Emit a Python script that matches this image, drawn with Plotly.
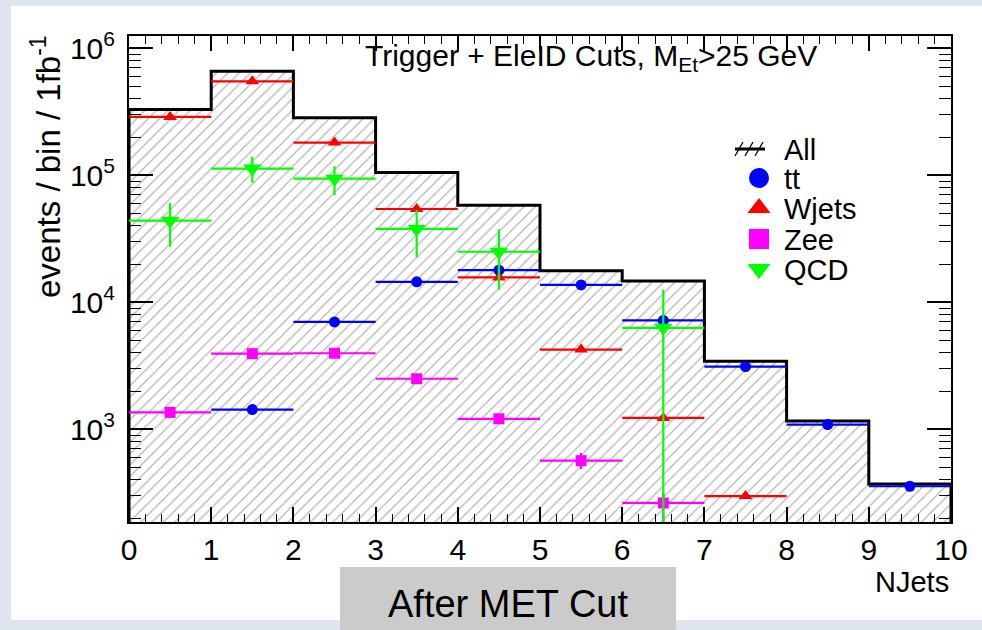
import plotly.graph_objects as go

# Bin edges and total ("All") events per NJets bin, per 1 fb^-1
edges = [0, 1, 2, 3, 4, 5, 6, 7, 8, 9, 10]
all_vals = [3.3e5, 6.6e5, 2.84e5, 1.05e5, 5.8e4, 1.77e4, 1.47e4, 3.43e3, 1.16e3, 371]

# ttbar
tt_x = [1.5, 2.5, 3.5, 4.5, 5.5, 6.5, 7.5, 8.5, 9.5]
tt_y = [1.43e3, 7.0e3, 1.45e4, 1.79e4, 1.37e4, 7.2e3, 3.11e3, 1.09e3, 356]

# W + jets
wj_x = [0.5, 1.5, 2.5, 3.5, 4.5, 5.5, 6.5, 7.5]
wj_y = [2.88e5, 5.5e5, 1.81e5, 5.43e4, 1.57e4, 4.24e3, 1.23e3, 298]
wj_err = [0, 0, 0, 3.0e3, 9.0e2, 0, 0, 0]

# Z -> ee
zee_x = [0.5, 1.5, 2.5, 3.5, 4.5, 5.5, 6.5]
zee_y = [1.36e3, 3.94e3, 3.97e3, 2.5e3, 1.21e3, 566, 263]
zee_err_up = [0, 0, 0, 0, 0, 84, 54]
zee_err_dn = [0, 0, 0, 0, 0, 79, 262]

# QCD
qcd_x = [0.5, 1.5, 2.5, 3.5, 4.5, 6.5]
qcd_y = [4.39e4, 1.13e5, 9.4e4, 3.78e4, 2.5e4, 6.3e3]
qcd_err_up = [1.64e4, 2.7e4, 2.4e4, 1.55e4, 1.26e4, 6.2e3]
qcd_err_dn = [1.65e4, 2.55e4, 2.4e4, 1.52e4, 1.24e4, 6.29e3]

# legend entries: label, colour, symbol
legend_names = ["All", "tt", "Wjets", "Zee", "QCD"]
legend_colors = ["black", "#0000ff", "#ff0000", "#ff00ff", "#00ff00"]
legend_symbols = [None, "circle", "triangle-up", "square", "triangle-down"]

FONT = "Liberation Sans, Arial, Helvetica, sans-serif"

# closed step outline of the total histogram, dropping to a floor below the axis
step_x, step_y = [edges[0]], [1.0]
for i, v in enumerate(all_vals):
    step_x += [edges[i], edges[i + 1]]
    step_y += [v, v]
step_x.append(edges[-1])
step_y.append(1.0)

fig = go.Figure()

fig.add_trace(go.Scatter(
    x=step_x, y=step_y, mode="lines", fill="toself", name="All", showlegend=False,
    line=dict(color="black", width=3),
    fillcolor="white",
    fillpattern=dict(shape="/", size=8, solidity=0.16, fgcolor="#6a6a6a", bgcolor="white"),
    hoverinfo="skip",
))


def points(x, y, color, symbol, size, up=None, dn=None):
    err_y = dict(visible=False)
    if up is not None:
        err_y = dict(type="data", symmetric=False, array=up, arrayminus=dn,
                     color=color, thickness=2.2, width=0)
    fig.add_trace(go.Scatter(
        x=x, y=y, mode="markers", showlegend=False,
        marker=dict(color=color, symbol=symbol, size=size),
        error_x=dict(type="constant", value=0.5, color=color, thickness=2.2, width=0),
        error_y=err_y,
    ))


points(tt_x, tt_y, "#0000ff", "circle", 11)
points(wj_x, wj_y, "#ff0000", "triangle-up", 12, wj_err, wj_err)
points(zee_x, zee_y, "#ff00ff", "square", 11, zee_err_up, zee_err_dn)
points(qcd_x, qcd_y, "#00ff00", "triangle-down", 16, qcd_err_up, qcd_err_dn)

# legend box drawn on an overlay axis measured in pixels from the plot's top-left
LX_SYM, LX_TXT = 759 - 129, 782 - 129
LY = [149 - 36, 178 - 36, 208 - 36, 239 - 36, 269 - 36]

# "All" key: horizontal bar crossed by hatch strokes
hx, hy = [LX_SYM - 24, LX_SYM + 6], [LY[0], LY[0]]
fig.add_trace(go.Scatter(x=hx, y=hy, xaxis="x2", yaxis="y2", mode="lines",
                         line=dict(color="black", width=3), showlegend=False, hoverinfo="skip"))
sx, sy = [], []
for dx in (-20, -10, 0):
    sx += [LX_SYM + dx - 4, LX_SYM + dx + 4, None]
    sy += [LY[0] + 7, LY[0] - 7, None]
fig.add_trace(go.Scatter(x=sx, y=sy, xaxis="x2", yaxis="y2", mode="lines",
                         line=dict(color="black", width=1.3), showlegend=False, hoverinfo="skip"))

for i in range(1, len(legend_names)):
    fig.add_trace(go.Scatter(
        x=[LX_SYM], y=[LY[i]], xaxis="x2", yaxis="y2", mode="markers", showlegend=False,
        marker=dict(color=legend_colors[i], symbol=legend_symbols[i], size=20),
        hoverinfo="skip",
    ))

annotations = [
    dict(text="Trigger + EleID Cuts, M<sub>Et</sub>>25 GeV", xref="paper", yref="paper",
         x=0.562, y=0.955, xanchor="center", yanchor="middle", showarrow=False,
         font=dict(size=30, family=FONT)),
    dict(text="events / bin / 1fb<sup>-1</sup>", xref="paper", yref="paper",
         x=-0.101, y=0.7325, xanchor="center", yanchor="middle", textangle=-90,
         showarrow=False, font=dict(size=33, family=FONT)),
    dict(text="NJets", xref="paper", yref="paper", x=1.0, y=-0.123,
         xanchor="right", yanchor="middle", showarrow=False, font=dict(size=29, family=FONT)),
    dict(text="After MET Cut", xref="paper", yref="paper", x=0.4611, y=-0.168,
         xanchor="center", yanchor="middle", showarrow=False, font=dict(size=38, family=FONT)),
]
for i, name in enumerate(legend_names):
    annotations.append(dict(text=name, xref="x2", yref="y2", x=LX_TXT, y=LY[i] + 1,
                            xanchor="left", yanchor="middle", showarrow=False,
                            font=dict(size=29, family=FONT)))

decades = [3, 4, 5, 6]
fig.update_layout(
    width=982, height=630,
    margin=dict(l=129, r=31, t=36, b=108),
    paper_bgcolor="#dfe5ef",
    plot_bgcolor="white",
    font=dict(family=FONT, color="black"),
    showlegend=False,
    xaxis=dict(
        range=[0, 10], dtick=1, tick0=0,
        ticks="inside", ticklen=15, tickwidth=1.5, tickcolor="black",
        showline=True, linecolor="black", linewidth=2, mirror="ticks",
        showgrid=False, zeroline=False,
        tickfont=dict(size=30, family=FONT),
        minor=dict(dtick=0.2, ticks="inside", ticklen=8, tickwidth=1.2, tickcolor="black", showgrid=False),
    ),
    yaxis=dict(
        type="log", range=[2.27, 6.097],
        tickvals=[10 ** d for d in decades],
        ticktext=["10<sup>%d</sup>" % d for d in decades],
        ticks="inside", ticklen=24, tickwidth=1.5, tickcolor="black",
        showline=True, linecolor="black", linewidth=2, mirror="ticks",
        showgrid=False, zeroline=False,
        tickfont=dict(size=30, family=FONT), ticklabelstandoff=6,
        minor=dict(dtick="D1", ticks="inside", ticklen=12, tickwidth=1.2, tickcolor="black", showgrid=False),
    ),
    xaxis2=dict(overlaying="x", range=[0, 822], visible=False, fixedrange=True),
    yaxis2=dict(overlaying="y", range=[486, 0], visible=False, fixedrange=True),
    shapes=[
        # white canvas panel
        dict(type="rect", xref="paper", yref="paper", x0=-0.1436, x1=1.04, y0=-0.2016, y1=1.0617,
             fillcolor="white", line=dict(width=0), layer="below"),
        # grey caption box
        dict(type="rect", xref="paper", yref="paper", x0=0.2567, x1=0.6655, y0=-0.24, y1=-0.0926,
             fillcolor="#cbcbcb", line=dict(width=0), layer="above"),
    ],
    annotations=annotations,
)

fig.write_html("out.html")
